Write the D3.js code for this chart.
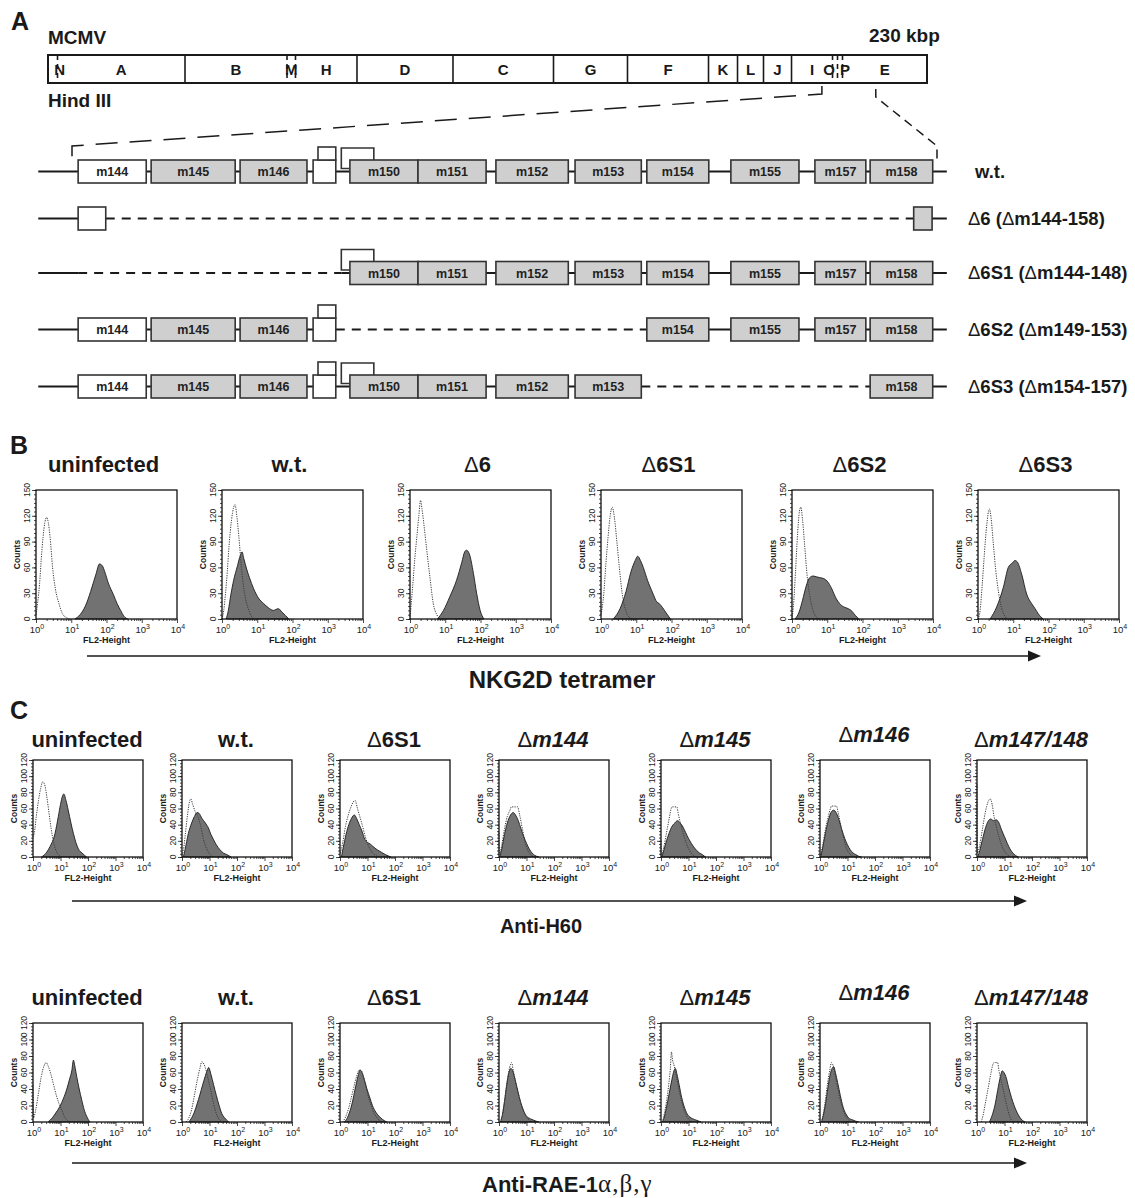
<!DOCTYPE html>
<html>
<head>
<meta charset="utf-8">
<script src="https://cdn.jsdelivr.net/npm/d3@7"></script>
<style>
  body { margin: 0; background: #fff; }
  svg { display: block; font-family: "Liberation Sans", Arial, Helvetica, sans-serif; }
</style>
</head>
<body>
<svg id="fig" width="1135" height="1198"></svg>
<script>
// ---------- panel A: Hind III map ----------
const fragNames = ['N', 'A', 'B', 'M', 'H', 'D', 'C', 'G', 'F', 'K', 'L', 'J', 'I', 'O', 'P', 'E'];
const fragStart = [0, 2.49, 35.85, 62.54, 64.76, 80.85, 105.97, 132.27, 151.63, 172.83, 180.42, 187.22, 194.55, 205.28, 206.58, 207.89];
const genomeLength = 230;
const tinyFrags = ['N', 'M', 'O', 'P'];

// expanded region (kbp) and genes inside it
const zoomRegion = [202.5, 216.6];
const backboneExtent = [201.95, 216.76];
const geneIds    = ['m144', 'm145', 'm146', 'm147', 'm148', 'm149', 'm150', 'm151', 'm152', 'm153', 'm154', 'm155', 'm157', 'm158', 'm144r', 'm158r'];
const geneLabels = ['m144', 'm145', 'm146', '', '', '', 'm150', 'm151', 'm152', 'm153', 'm154', 'm155', 'm157', 'm158', '', ''];
const geneStart  = [202.60, 203.79, 205.24, 206.43, 206.51, 206.89, 207.03, 208.14, 209.41, 210.70, 211.87, 213.24, 214.61, 215.51, 202.60, 216.22];
const geneEnd    = [203.71, 205.16, 206.33, 206.80, 206.80, 207.42, 208.14, 209.25, 210.59, 211.78, 212.88, 214.35, 215.44, 216.53, 203.05, 216.52];
const geneKind   = ['box', 'box', 'box', 'box', 'top', 'bracket', 'box', 'box', 'box', 'box', 'box', 'box', 'box', 'box', 'box', 'box'];
const geneOpen   = [true, false, false, true, true, true, false, false, false, false, false, false, false, false, true, false];

const rowLabels = ['w.t.', 'Δ6 (Δm144-158)', 'Δ6S1 (Δm144-148)', 'Δ6S2 (Δm149-153)', 'Δ6S3 (Δm154-157)'];
const rowGenes = [
  ['m144', 'm145', 'm146', 'm147', 'm148', 'm149', 'm150', 'm151', 'm152', 'm153', 'm154', 'm155', 'm157', 'm158'],
  ['m144r', 'm158r'],
  ['m149', 'm150', 'm151', 'm152', 'm153', 'm154', 'm155', 'm157', 'm158'],
  ['m144', 'm145', 'm146', 'm147', 'm148', 'm154', 'm155', 'm157', 'm158'],
  ['m144', 'm145', 'm146', 'm147', 'm148', 'm149', 'm150', 'm151', 'm152', 'm153', 'm158']
];
const rowDeleted = [null, [203.05, 216.22], [202.60, 206.89], [206.80, 211.87], [211.78, 215.51]];

// ---------- panel B: NKG2D tetramer ([log10 FL2, counts]) ----------
const tetramerTitles = ['uninfected', 'w.t.', 'Δ6', 'Δ6S1', 'Δ6S2', 'Δ6S3'];
const tetramerTicks = [0, 30, 60, 90, 120, 150];
const tetramerControl = [
  [[0, 5], [0.05, 20], [0.1, 40], [0.15, 70], [0.2, 95], [0.25, 112], [0.3, 118], [0.35, 112], [0.4, 95], [0.47, 60], [0.55, 35], [0.65, 18], [0.75, 6], [0.85, 2], [0.95, 0]],
  [[0, 0], [0.05, 10], [0.1, 30], [0.15, 55], [0.2, 85], [0.27, 115], [0.33, 130], [0.37, 133], [0.42, 120], [0.48, 95], [0.55, 60], [0.62, 35], [0.7, 18], [0.78, 8], [0.88, 0]],
  [[0, 0], [0.03, 15], [0.08, 40], [0.14, 72], [0.2, 98], [0.25, 120], [0.3, 138], [0.34, 128], [0.4, 108], [0.47, 82], [0.57, 47], [0.66, 18], [0.76, 5], [0.86, 0]],
  [[0, 5], [0.04, 15], [0.08, 30], [0.14, 65], [0.2, 95], [0.26, 120], [0.32, 130], [0.38, 118], [0.45, 90], [0.52, 60], [0.6, 30], [0.7, 10], [0.8, 2], [0.9, 0]],
  [[0, 0], [0.04, 15], [0.1, 55], [0.16, 100], [0.21, 125], [0.25, 130], [0.3, 115], [0.36, 85], [0.43, 50], [0.5, 28], [0.58, 12], [0.66, 4], [0.75, 0]],
  [[0, 0], [0.06, 10], [0.12, 40], [0.18, 75], [0.25, 110], [0.32, 128], [0.37, 118], [0.43, 90], [0.5, 58], [0.58, 32], [0.66, 14], [0.74, 5], [0.82, 0]]
];
const tetramerStained = [
  [[1.1, 0], [1.25, 5], [1.4, 15], [1.55, 32], [1.7, 52], [1.8, 64], [1.88, 62], [1.95, 55], [2.05, 42], [2.2, 28], [2.3, 18], [2.4, 10], [2.5, 3], [2.6, 0]],
  [[0.12, 0], [0.18, 10], [0.25, 28], [0.33, 45], [0.44, 62], [0.52, 74], [0.57, 78], [0.62, 70], [0.7, 58], [0.78, 48], [0.9, 35], [1.04, 24], [1.18, 18], [1.32, 13], [1.45, 10], [1.6, 12], [1.7, 8], [1.8, 4], [1.9, 0]],
  [[0.78, 0], [0.95, 10], [1.13, 26], [1.32, 45], [1.47, 66], [1.55, 78], [1.6, 80], [1.68, 76], [1.8, 53], [1.89, 30], [1.99, 10], [2.1, 0]],
  [[0.35, 0], [0.54, 12], [0.71, 32], [0.85, 55], [0.97, 68], [1.04, 73], [1.12, 68], [1.2, 60], [1.32, 45], [1.47, 30], [1.58, 20], [1.65, 18], [1.75, 13], [1.85, 7], [1.97, 0]],
  [[0.09, 0], [0.2, 8], [0.3, 22], [0.4, 38], [0.5, 48], [0.6, 50], [0.7, 49], [0.8, 48], [0.9, 47], [1.0, 44], [1.13, 35], [1.25, 24], [1.35, 18], [1.47, 14], [1.6, 12], [1.7, 9], [1.8, 4], [1.9, 0]],
  [[0.34, 0], [0.53, 14], [0.72, 37], [0.86, 60], [0.97, 65], [1.05, 68], [1.12, 66], [1.24, 52], [1.38, 29], [1.52, 18], [1.62, 12], [1.71, 6], [1.85, 0]]
];

// ---------- panel C: anti-H60 and anti-RAE-1 ----------
const mutantTitles = ['uninfected', 'w.t.', 'Δ6S1', 'Δm144', 'Δm145', 'Δm146', 'Δm147/148'];
const mutantTicks = [0, 20, 40, 60, 80, 100, 120];
const h60Control = [
  [[0, 25], [0.05, 30], [0.12, 50], [0.2, 70], [0.28, 85], [0.35, 93], [0.42, 90], [0.5, 75], [0.58, 55], [0.66, 35], [0.75, 18], [0.85, 7], [0.95, 2], [1.05, 0]],
  [[0, 2], [0.05, 8], [0.12, 28], [0.2, 52], [0.27, 68], [0.32, 72], [0.38, 66], [0.48, 56], [0.58, 50], [0.68, 38], [0.78, 22], [0.9, 10], [1.0, 4], [1.12, 0]],
  [[0.02, 5], [0.1, 18], [0.2, 38], [0.3, 52], [0.4, 62], [0.48, 68], [0.55, 70], [0.62, 62], [0.72, 50], [0.82, 38], [0.92, 25], [1.02, 15], [1.12, 8], [1.25, 3], [1.4, 0]],
  [[0, 30], [0.015, 3], [0.1, 15], [0.2, 35], [0.3, 50], [0.4, 58], [0.45, 62], [0.68, 62], [0.75, 52], [0.85, 35], [0.95, 18], [1.05, 8], [1.15, 3], [1.25, 0]],
  [[0, 20], [0.015, 2], [0.1, 12], [0.2, 30], [0.3, 48], [0.37, 60], [0.4, 62], [0.58, 62], [0.62, 55], [0.72, 40], [0.82, 28], [0.92, 17], [1.02, 9], [1.12, 4], [1.25, 0]],
  [[0.02, 3], [0.1, 15], [0.2, 35], [0.3, 50], [0.38, 60], [0.42, 63], [0.6, 63], [0.66, 55], [0.75, 40], [0.85, 25], [0.95, 12], [1.05, 5], [1.15, 2], [1.25, 0]],
  [[0, 90], [0.015, 5], [0.1, 15], [0.2, 35], [0.3, 55], [0.4, 68], [0.48, 72], [0.55, 65], [0.62, 50], [0.7, 38], [0.8, 25], [0.9, 14], [1.0, 7], [1.1, 3], [1.2, 0]]
];
const h60Stained = [
  [[0.31, 0], [0.5, 6], [0.62, 13], [0.8, 29], [0.92, 50], [1.0, 65], [1.08, 76], [1.12, 78], [1.2, 70], [1.28, 58], [1.38, 42], [1.47, 29], [1.56, 18], [1.65, 10], [1.78, 5], [1.95, 0]],
  [[0.05, 0], [0.11, 9], [0.23, 29], [0.35, 42], [0.45, 50], [0.55, 55], [0.62, 54], [0.72, 48], [0.85, 42], [0.96, 36], [1.05, 28], [1.14, 22], [1.25, 15], [1.38, 9], [1.5, 5], [1.63, 3], [1.78, 0]],
  [[0.05, 0], [0.12, 12], [0.22, 28], [0.32, 40], [0.42, 48], [0.52, 52], [0.6, 48], [0.7, 40], [0.8, 32], [0.9, 22], [1.0, 18], [1.1, 16], [1.2, 13], [1.35, 9], [1.5, 6], [1.65, 3], [1.85, 0]],
  [[0.03, 0], [0.1, 10], [0.2, 28], [0.3, 42], [0.42, 52], [0.52, 55], [0.6, 52], [0.7, 45], [0.8, 35], [0.9, 25], [1.0, 17], [1.1, 10], [1.2, 5], [1.3, 2], [1.45, 0]],
  [[0.03, 0], [0.1, 8], [0.2, 20], [0.3, 30], [0.4, 38], [0.5, 42], [0.6, 45], [0.7, 42], [0.8, 37], [0.9, 30], [1.0, 23], [1.1, 17], [1.2, 12], [1.3, 8], [1.4, 5], [1.5, 3], [1.62, 0]],
  [[0.03, 0], [0.1, 12], [0.2, 30], [0.3, 45], [0.4, 55], [0.5, 58], [0.6, 54], [0.7, 45], [0.8, 33], [0.9, 23], [1.0, 15], [1.1, 9], [1.2, 5], [1.3, 3], [1.4, 1], [1.5, 0]],
  [[0.03, 0], [0.1, 8], [0.2, 22], [0.3, 35], [0.4, 44], [0.5, 47], [0.6, 45], [0.7, 46], [0.8, 42], [0.9, 33], [1.0, 25], [1.1, 17], [1.2, 10], [1.3, 5], [1.4, 2], [1.5, 0]]
];
const raeControl = [
  [[0, 45], [0.02, 5], [0.1, 15], [0.2, 35], [0.3, 55], [0.4, 68], [0.48, 72], [0.55, 68], [0.65, 58], [0.75, 45], [0.85, 32], [0.95, 22], [1.05, 14], [1.15, 6], [1.25, 2], [1.35, 0]],
  [[0.15, 0], [0.25, 5], [0.35, 15], [0.45, 32], [0.55, 50], [0.65, 65], [0.72, 73], [0.8, 70], [0.88, 62], [0.95, 52], [1.05, 38], [1.15, 22], [1.25, 10], [1.35, 3], [1.45, 0]],
  [[0.1, 0], [0.2, 6], [0.3, 15], [0.4, 28], [0.5, 42], [0.6, 55], [0.7, 63], [0.78, 62], [0.85, 55], [0.95, 42], [1.05, 28], [1.15, 18], [1.25, 10], [1.35, 5], [1.5, 0]],
  [[0.05, 0], [0.12, 8], [0.2, 25], [0.28, 45], [0.35, 60], [0.42, 70], [0.46, 72], [0.52, 62], [0.6, 50], [0.7, 35], [0.8, 22], [0.9, 12], [1.0, 6], [1.1, 2], [1.2, 0]],
  [[0.05, 0], [0.12, 10], [0.2, 25], [0.28, 45], [0.34, 65], [0.38, 85], [0.42, 75], [0.48, 68], [0.56, 55], [0.65, 40], [0.75, 25], [0.85, 14], [0.95, 6], [1.05, 2], [1.15, 0]],
  [[0.05, 0], [0.12, 10], [0.2, 28], [0.28, 48], [0.35, 62], [0.42, 72], [0.48, 68], [0.56, 55], [0.65, 40], [0.75, 25], [0.85, 14], [0.95, 6], [1.05, 2], [1.15, 0]],
  [[0.15, 0], [0.22, 8], [0.3, 22], [0.4, 40], [0.5, 58], [0.58, 70], [0.62, 72], [0.75, 72], [0.8, 62], [0.88, 50], [0.98, 35], [1.08, 20], [1.18, 8], [1.28, 0]]
];
const raeStained = [
  [[0.55, 0], [0.7, 5], [0.85, 12], [0.98, 19], [1.1, 28], [1.23, 40], [1.33, 52], [1.41, 62], [1.47, 75], [1.52, 68], [1.59, 55], [1.68, 40], [1.77, 27], [1.86, 15], [1.95, 7], [2.07, 0]],
  [[0.25, 0], [0.35, 5], [0.45, 12], [0.55, 22], [0.65, 33], [0.75, 45], [0.85, 56], [0.92, 63], [0.97, 66], [1.05, 58], [1.15, 45], [1.25, 32], [1.35, 20], [1.45, 10], [1.55, 5], [1.7, 0]],
  [[0.15, 0], [0.25, 4], [0.35, 12], [0.45, 24], [0.55, 40], [0.65, 55], [0.73, 63], [0.8, 60], [0.88, 52], [0.98, 40], [1.08, 30], [1.18, 20], [1.3, 12], [1.42, 7], [1.55, 3], [1.7, 0]],
  [[0.05, 0], [0.12, 8], [0.2, 25], [0.28, 45], [0.36, 60], [0.43, 65], [0.5, 62], [0.58, 52], [0.68, 38], [0.78, 25], [0.88, 15], [0.98, 8], [1.08, 5], [1.2, 3], [1.35, 1], [1.45, 0]],
  [[0.05, 0], [0.12, 6], [0.2, 18], [0.3, 35], [0.4, 52], [0.47, 62], [0.52, 65], [0.58, 58], [0.66, 45], [0.75, 30], [0.85, 18], [0.95, 10], [1.05, 6], [1.15, 4], [1.3, 2], [1.45, 0]],
  [[0.05, 0], [0.12, 8], [0.2, 22], [0.28, 40], [0.36, 56], [0.44, 65], [0.5, 67], [0.56, 60], [0.64, 48], [0.74, 32], [0.84, 18], [0.94, 10], [1.04, 5], [1.15, 3], [1.3, 1], [1.4, 0]],
  [[0.45, 0], [0.55, 8], [0.65, 20], [0.75, 38], [0.85, 55], [0.92, 62], [0.98, 60], [1.05, 55], [1.15, 42], [1.25, 30], [1.35, 20], [1.45, 12], [1.55, 6], [1.65, 2], [1.75, 0]]
];
const decadeTicks = [0, 1, 2, 3, 4];

const svg = d3.select('#fig');
const ink = '#1a1a1a';

// text with thin Δ glyphs and optional italic gene name
const richText = (t, str, italic) => {
  str.split(/(Δ)/).filter(s => s !== '').forEach((part) => {
    const sp = t.append('tspan').text(part);
    if (part === 'Δ') sp.attr('font-weight', 'normal');
    else if (italic && /^m\d/.test(part)) sp.attr('font-style', 'italic');
  });
  return t;
};

const label = (x, y, size, anchor = 'start') => svg.append('text')
  .attr('x', x).attr('y', y)
  .attr('font-size', size)
  .attr('font-weight', 'bold')
  .attr('text-anchor', anchor)
  .attr('fill', ink);

// ---------- A ----------
label(11, 30, 25).text('A');
label(48, 44, 19).text('MCMV');
label(869, 42, 19).text('230 kbp');
label(48, 107, 19).text('Hind III');

const gx = d3.scaleLinear().domain([0, genomeLength]).range([48, 927]);
const barTop = 55;
const barH = 28;
const fragLabelShift = { N: 7, O: -6, P: 5 };

svg.append('rect')
  .attr('x', gx(0)).attr('y', barTop)
  .attr('width', gx(genomeLength) - gx(0)).attr('height', barH)
  .attr('fill', 'none').attr('stroke', ink).attr('stroke-width', 2);

fragNames.forEach((name, i) => {
  const s = fragStart[i];
  const e = i + 1 < fragStart.length ? fragStart[i + 1] : genomeLength;
  if (i > 0) {
    const dashed = tinyFrags.includes(name) || tinyFrags.includes(fragNames[i - 1]);
    svg.append('line')
      .attr('x1', gx(s)).attr('x2', gx(s))
      .attr('y1', barTop).attr('y2', barTop + barH)
      .attr('stroke', ink).attr('stroke-width', 1.6)
      .attr('stroke-dasharray', dashed ? '5,4' : null);
  }
  svg.append('text')
    .attr('x', gx((s + e) / 2) + (fragLabelShift[name] || 0))
    .attr('y', barTop + barH / 2 + 5.5)
    .attr('text-anchor', 'middle')
    .attr('font-size', 15).attr('font-weight', 'bold').attr('fill', ink)
    .text(name);
});

const geneX = d3.scaleLinear().domain(zoomRegion).range([72, 937]);

// expansion lines
svg.append('path')
  .attr('d', `M${gx(zoomRegion[0])},86 V94 L${geneX(zoomRegion[0])},146 V160`)
  .attr('fill', 'none').attr('stroke', ink).attr('stroke-width', 1.5).attr('stroke-dasharray', '22,12');
svg.append('path')
  .attr('d', `M${gx(zoomRegion[1])},89 V97 L${geneX(zoomRegion[1])},146 V160`)
  .attr('fill', 'none').attr('stroke', ink).attr('stroke-width', 1.5).attr('stroke-dasharray', '9,6');

const rowY = [171.5, 218.5, 273, 329.5, 386.5];
const boxH = 23;

rowGenes.forEach((members, r) => {
  const cy = rowY[r];
  const g = svg.append('g');
  const del = rowDeleted[r];
  const solid = del ? [[backboneExtent[0], del[0]], [del[1], backboneExtent[1]]] : [backboneExtent];
  solid.forEach(([a, b]) => {
    g.append('line').attr('x1', geneX(a)).attr('x2', geneX(b)).attr('y1', cy).attr('y2', cy)
      .attr('stroke', ink).attr('stroke-width', 2.2);
  });
  if (del) {
    g.append('line').attr('x1', geneX(del[0])).attr('x2', geneX(del[1])).attr('y1', cy).attr('y2', cy)
      .attr('stroke', ink).attr('stroke-width', 2.2).attr('stroke-dasharray', '9,7');
  }
  const top = cy - boxH / 2;
  members.forEach((id) => {
    const i = geneIds.indexOf(id);
    if (geneKind[i] !== 'bracket') return;
    const joinX = geneX(geneStart[geneIds.indexOf('m150')]);
    g.append('path')
      .attr('d', `M${joinX},${cy - 3} H${geneX(geneStart[i])} V${top - 12} H${geneX(geneEnd[i])} V${top}`)
      .attr('fill', 'none').attr('stroke', '#333').attr('stroke-width', 1.6);
  });
  members.forEach((id) => {
    const i = geneIds.indexOf(id);
    if (geneKind[i] === 'bracket') return;
    const x0 = geneX(geneStart[i]);
    const x1 = geneX(geneEnd[i]);
    const isTop = geneKind[i] === 'top';
    g.append('rect')
      .attr('x', x0).attr('y', isTop ? top - 13 : top)
      .attr('width', x1 - x0).attr('height', isTop ? 13 : boxH)
      .attr('fill', geneOpen[i] ? '#fff' : '#cfcfcf')
      .attr('stroke', '#333').attr('stroke-width', 1.6);
    if (geneLabels[i]) {
      g.append('text')
        .attr('x', (x0 + x1) / 2).attr('y', cy + 4.5)
        .attr('text-anchor', 'middle')
        .attr('font-size', 12.5).attr('font-weight', 'bold').attr('fill', '#222')
        .text(geneLabels[i]);
    }
  });
  richText(label(r === 0 ? 975 : 968, cy + 6, 18.5), rowLabels[r], false);
});

// ---------- histograms ----------
const minorDecades = d3.range(0, 4).flatMap(n => d3.range(2, 10).map(k => n + Math.log10(k)));

function histogram(left, top, w, h, yMax, yTicks, minorStep, ctrl, stain) {
  const g = svg.append('g').attr('transform', `translate(${left},${top})`);
  const x = d3.scaleLinear().domain([0, 4]).range([0, w]);
  const y = d3.scaleLinear().domain([0, yMax]).range([h, 0]);

  g.append('path').datum(stain)
    .attr('d', d3.area().x(d => x(d[0])).y0(h).y1(d => y(d[1])).curve(d3.curveMonotoneX))
    .attr('fill', '#727272').attr('stroke', '#1c1c1c').attr('stroke-width', 0.9);
  g.append('path').datum(ctrl)
    .attr('d', d3.line().x(d => x(d[0])).y(d => y(d[1])).curve(d3.curveMonotoneX))
    .attr('fill', 'none').attr('stroke', '#3a3a3a').attr('stroke-width', 1)
    .attr('stroke-dasharray', '1.2,1.2');

  const yMajor = g.append('g').call(d3.axisLeft(y).tickValues(yTicks).tickSize(4).tickFormat(''));
  const yMinor = g.append('g').call(d3.axisLeft(y).tickValues(d3.range(0, yMax + 1, minorStep)).tickSize(2).tickFormat(''));
  const xMajor = g.append('g').attr('transform', `translate(0,${h})`)
    .call(d3.axisBottom(x).tickValues(decadeTicks).tickSize(4).tickFormat(''));
  const xMinor = g.append('g').attr('transform', `translate(0,${h})`)
    .call(d3.axisBottom(x).tickValues(minorDecades).tickSize(2).tickFormat(''));
  [yMajor, yMinor, xMajor, xMinor].forEach((a) => {
    a.select('.domain').remove();
    a.selectAll('line').attr('stroke', ink).attr('stroke-width', 0.8);
  });

  g.append('rect').attr('width', w).attr('height', h)
    .attr('fill', 'none').attr('stroke', '#111').attr('stroke-width', 1.3);

  yTicks.forEach((v) => {
    g.append('text')
      .attr('transform', `translate(-6,${y(v)}) rotate(-90)`)
      .attr('text-anchor', 'middle')
      .attr('font-size', 8.5).attr('fill', ink)
      .text(v);
  });
  g.append('text')
    .attr('transform', `translate(-16,${h / 2}) rotate(-90)`)
    .attr('text-anchor', 'middle')
    .attr('font-size', 8.5).attr('font-weight', 'bold').attr('fill', ink)
    .text('Counts');

  decadeTicks.forEach((v) => {
    const t = g.append('text')
      .attr('x', x(v) + 1).attr('y', h + 14)
      .attr('text-anchor', 'middle')
      .attr('font-size', 9.5).attr('fill', ink);
    t.append('tspan').text('10');
    t.append('tspan').attr('dy', -4).attr('font-size', 7).text(v);
  });
  g.append('text')
    .attr('x', w / 2).attr('y', h + 24)
    .attr('text-anchor', 'middle')
    .attr('font-size', 9).attr('font-weight', 'bold').attr('fill', ink)
    .text('FL2-Height');
}

function arrow(x1, x2, y) {
  svg.append('line').attr('x1', x1).attr('x2', x2 - 12).attr('y1', y).attr('y2', y)
    .attr('stroke', ink).attr('stroke-width', 1.5);
  svg.append('path').attr('d', `M${x2 - 13},${y - 5.5} L${x2},${y} L${x2 - 13},${y + 5.5} Z`).attr('fill', ink);
}

// ---------- B ----------
label(10, 454, 25).text('B');
const bLefts = [36, 222, 410, 601, 792, 978];
const bW = 141;
tetramerTitles.forEach((title, i) => {
  richText(label(bLefts[i] + bW / 2 - 3, 472, 22, 'middle'), title, false);
  histogram(bLefts[i], 490, bW, 129, 150, tetramerTicks, 5, tetramerControl[i], tetramerStained[i]);
});
arrow(87, 1041, 656);
label(562, 688, 24, 'middle').text('NKG2D tetramer');

// ---------- C ----------
label(10, 719, 25).text('C');
const cLefts = [33, 182, 340, 499, 661, 820, 977];
const cW = 110;
const cTitleLift = [0, 0, 0, 0, 0, 5, 0];
mutantTitles.forEach((title, i) => {
  richText(label(cLefts[i] + cW / 2 - 1, 747 - cTitleLift[i], 22, 'middle'), title, true);
  histogram(cLefts[i], 760, cW, 97, 120, mutantTicks, 4, h60Control[i], h60Stained[i]);
});
arrow(72, 1027, 901);
label(541, 933, 20, 'middle').text('Anti-H60');

mutantTitles.forEach((title, i) => {
  richText(label(cLefts[i] + cW / 2 - 1, 1005 - cTitleLift[i], 22, 'middle'), title, true);
  histogram(cLefts[i], 1023, cW, 99, 120, mutantTicks, 4, raeControl[i], raeStained[i]);
});
arrow(72, 1027, 1163);
const rae = label(482, 1192, 22, 'start');
rae.append('tspan').text('Anti-RAE-1');
rae.append('tspan').attr('font-family', '"Liberation Serif", "Times New Roman", serif')
  .attr('font-weight', 'normal').attr('font-size', 25).attr('letter-spacing', 1).text('α,β,γ');
</script>
</body>
</html>
